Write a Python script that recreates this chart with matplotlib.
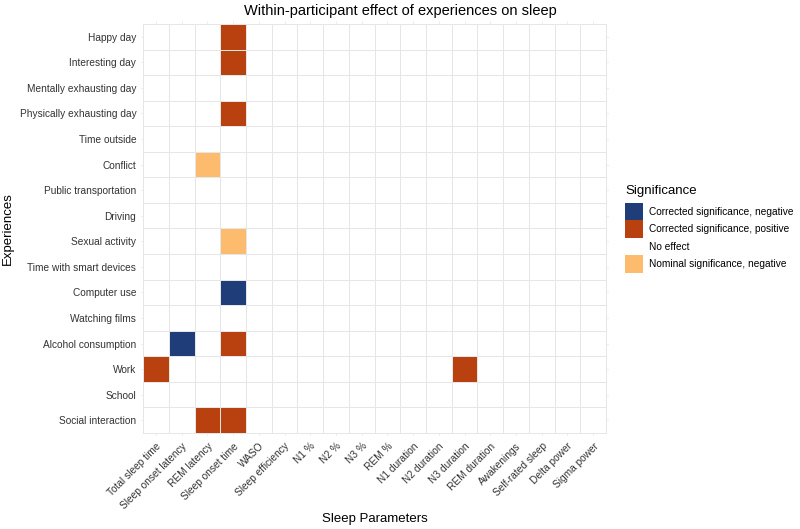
import numpy as np
import matplotlib
matplotlib.use("Agg")
import matplotlib.pyplot as plt
from matplotlib.colors import ListedColormap
from matplotlib.patches import Patch

plt.rcParams['font.family'] = ['Liberation Sans', 'DejaVu Sans']

experiences = ["Happy day", "Interesting day", "Mentally exhausting day",
               "Physically exhausting day", "Time outside", "Conflict",
               "Public transportation", "Driving", "Sexual activity",
               "Time with smart devices", "Computer use", "Watching films",
               "Alcohol consumption", "Work", "School", "Social interaction"]

parameters = ["Total sleep time", "Sleep onset latency", "REM latency",
              "Sleep onset time", "WASO", "Sleep efficiency", "N1 %", "N2 %",
              "N3 %", "REM %", "N1 duration", "N2 duration", "N3 duration",
              "REM duration", "Awakenings", "Self-rated sleep", "Delta power",
              "Sigma power"]

categories = ["Corrected significance, negative",
              "Corrected significance, positive",
              "No effect",
              "Nominal significance, negative"]
colors = ["#1f3d78", "#b8410f", "#ffffff", "#fdbb6e"]

# non-null effects: (experience, parameter, category index)
effects = [
    ("Happy day", "Sleep onset time", 1),
    ("Interesting day", "Sleep onset time", 1),
    ("Physically exhausting day", "Sleep onset time", 1),
    ("Conflict", "REM latency", 3),
    ("Sexual activity", "Sleep onset time", 3),
    ("Computer use", "Sleep onset time", 0),
    ("Alcohol consumption", "Sleep onset latency", 0),
    ("Alcohol consumption", "Sleep onset time", 1),
    ("Work", "Total sleep time", 1),
    ("Work", "N3 duration", 1),
    ("Social interaction", "REM latency", 1),
    ("Social interaction", "Sleep onset time", 1),
]

grid = np.full((len(experiences), len(parameters)), 2)
for exp, par, cat in effects:
    grid[experiences.index(exp), parameters.index(par)] = cat

W, H = 800, 529
fig = plt.figure(figsize=(W / 100, H / 100), dpi=100)
x0, x1 = 140.5, 608.6
y_top, y_bot = 21.5, 435.5
ax = fig.add_axes([x0 / W, 1 - y_bot / H, (x1 - x0) / W, (y_bot - y_top) / H])

nx, ny = len(parameters), len(experiences)
xe = np.arange(nx + 1) - 0.5
ye = np.arange(ny + 1) - 0.5
ax.pcolormesh(xe, ye, grid, cmap=ListedColormap(colors), vmin=-0.5, vmax=3.5,
              edgecolors="#e6e6e6", linewidth=0.6, zorder=2)

# center grid lines (only peek out in the expansion margin)
for i in range(nx):
    ax.axvline(i, color="#ebebeb", lw=0.6, zorder=1)
for j in range(ny):
    ax.axhline(j, color="#ebebeb", lw=0.6, zorder=1)

ax.set_xlim(-0.6, nx - 0.4)
ax.set_ylim(ny - 0.4, -0.6)
for s in ax.spines.values():
    s.set_visible(False)

ax.set_xticks(range(nx))
ax.set_xticklabels(parameters, rotation=45, ha="right", rotation_mode="anchor",
                   fontsize=7.3, color="#333333")
ax.set_yticks(range(ny))
ax.set_yticklabels(experiences, fontsize=7.3, color="#333333")
ax.tick_params(axis="x", length=0, pad=4)
ax.tick_params(axis="y", length=0, pad=3)

ax.set_xlabel("Sleep Parameters", fontsize=9.5)
ax.set_ylabel("Experiences", fontsize=9.5)
ax.xaxis.set_label_coords(0.5, -(513 - y_bot) / (y_bot - y_top))
ax.yaxis.set_label_coords(-(x0 - 14) / (x1 - x0), 0.5)
fig.text(0.5, 1 - 11 / H, "Within-participant effect of experiences on sleep",
         ha="center", va="center", fontsize=10.5)

handles = [Patch(facecolor=c, edgecolor="none") for c in colors]
leg = fig.legend(handles, categories, loc="upper left",
                 bbox_to_anchor=(625 / W, 1 - 185 / H), frameon=False,
                 title="Significance", fontsize=7.3, title_fontsize=9.5,
                 handlelength=1.75, handleheight=2.3, labelspacing=0,
                 handletextpad=0.6, borderaxespad=0, borderpad=0)
leg._legend_box.align = "left"
leg._legend_box.sep = 4

fig.savefig("out.png", dpi=100)
